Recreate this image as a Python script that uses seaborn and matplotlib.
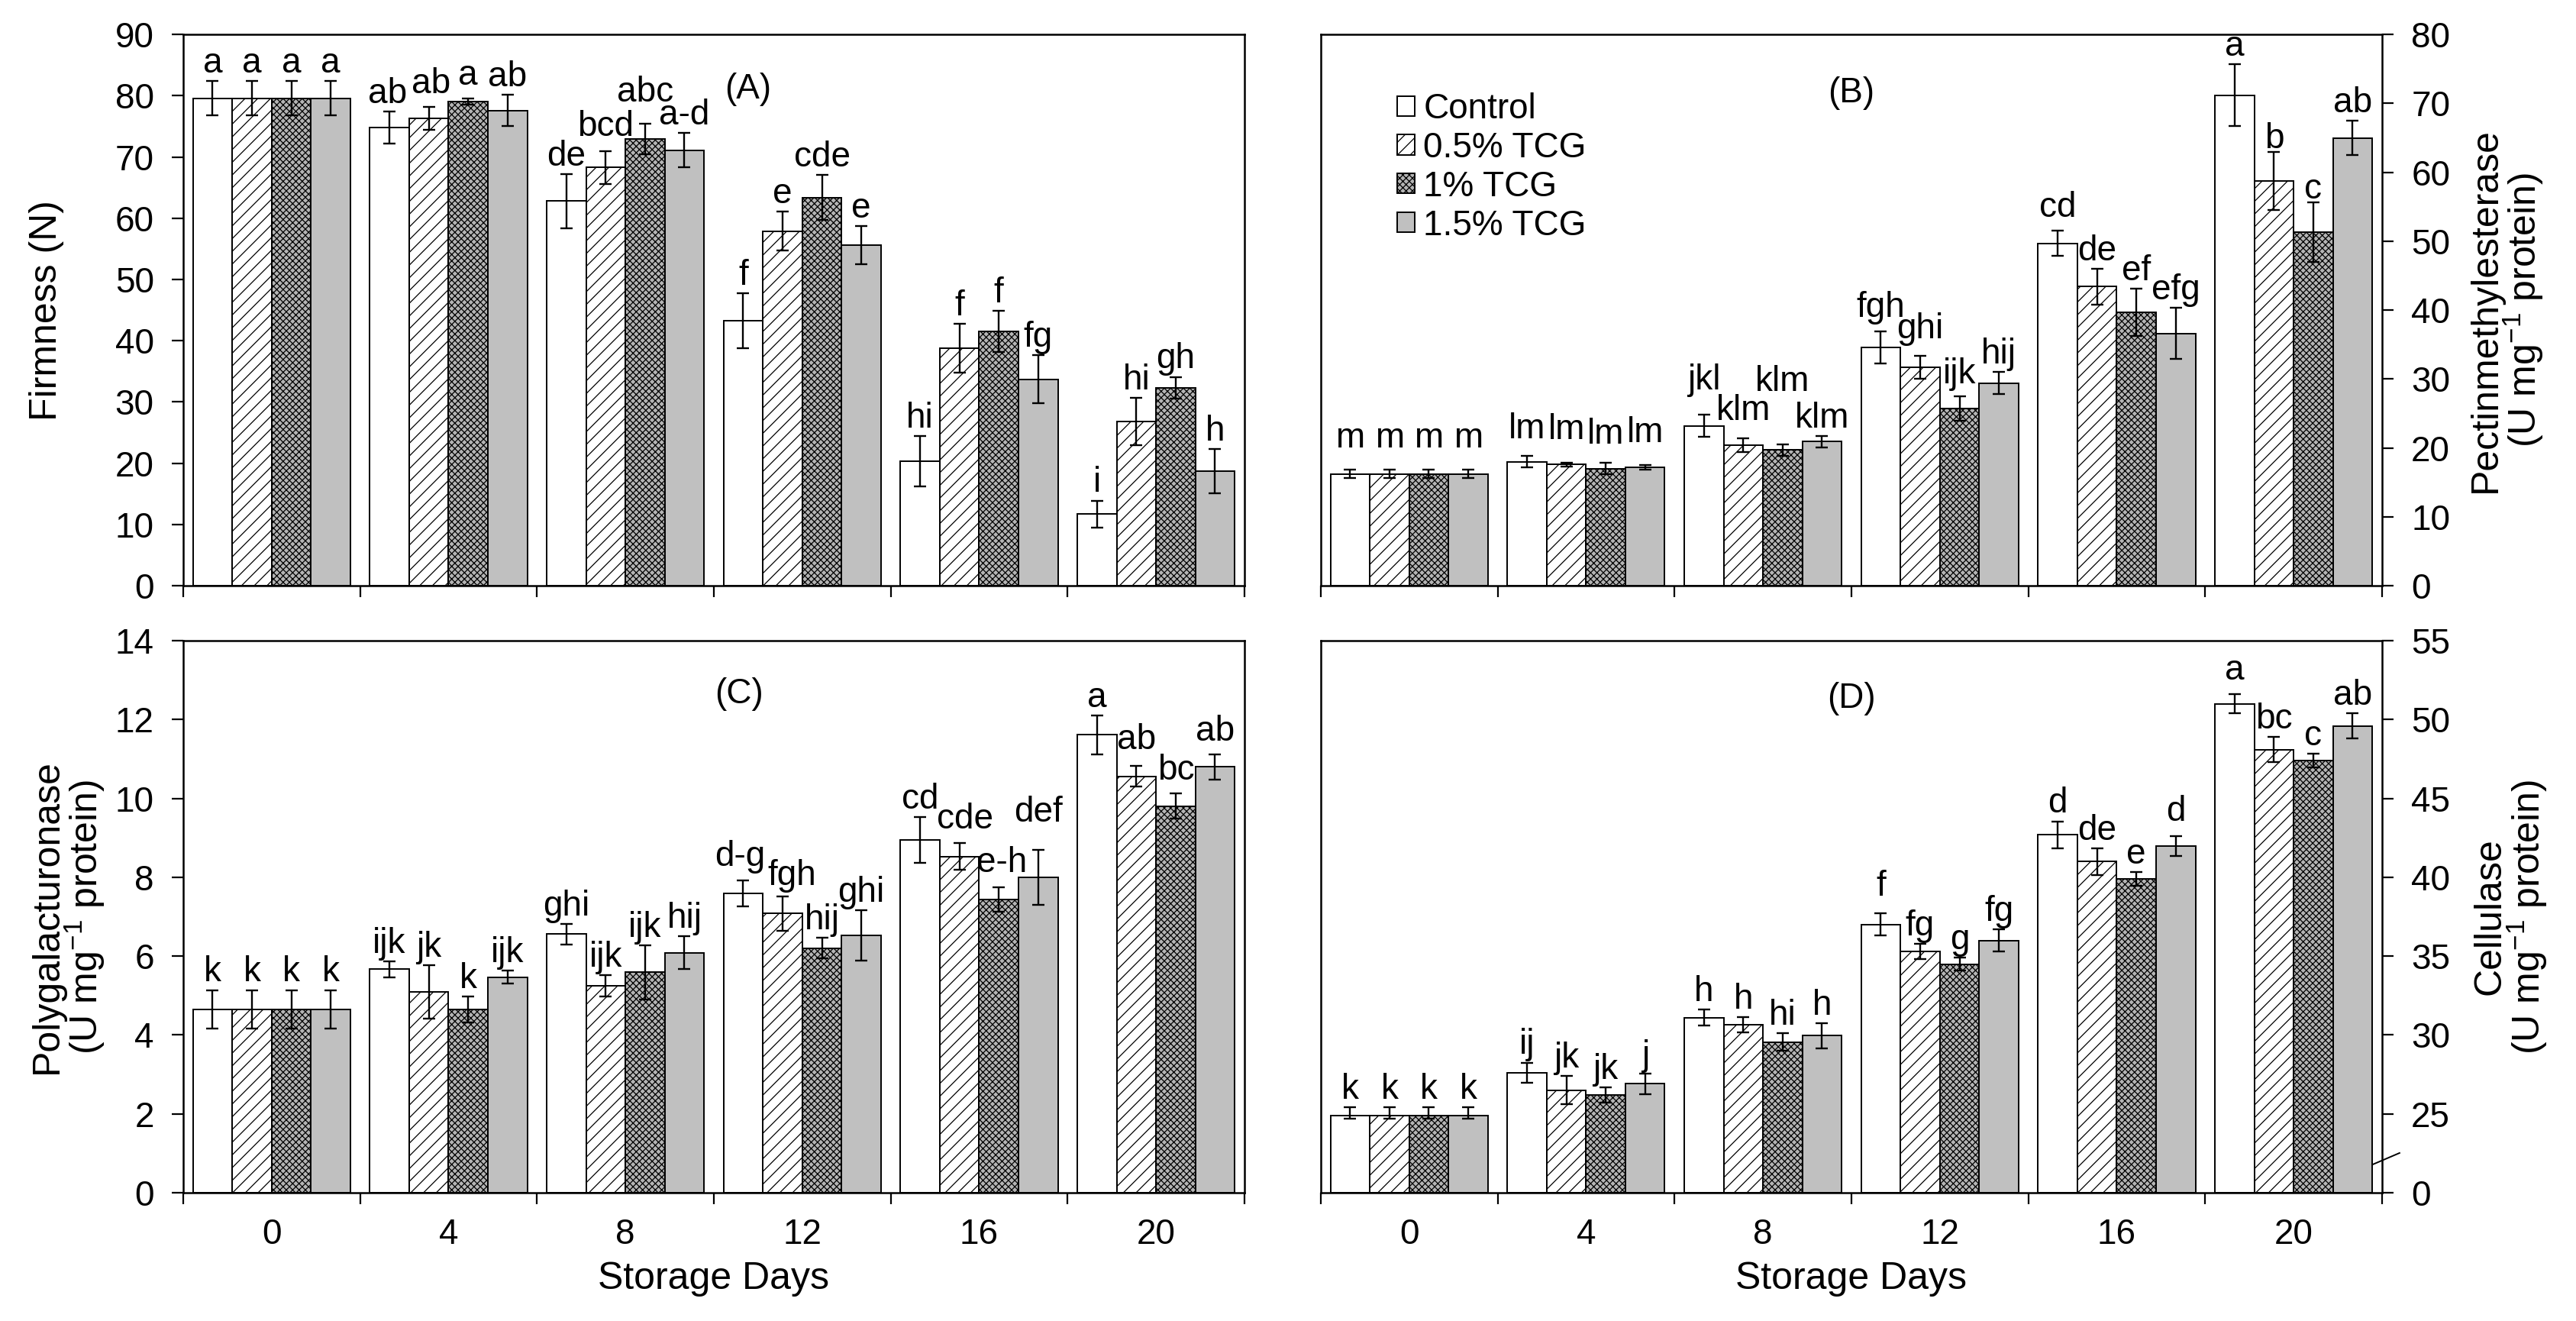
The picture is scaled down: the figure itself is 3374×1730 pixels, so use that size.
import numpy as np
import pandas as pd
import seaborn as sns
import matplotlib.pyplot as plt

# categories
days = ['0', '4', '8', '12', '16', '20']
treatments = ['Control', '0.5% TCG', '1% TCG', '1.5% TCG']

# (A) firmness (N) - rows are treatments, columns are storage days
firm_mean = [[79.6, 74.8, 62.8, 43.3, 20.3, 11.7],
             [79.6, 76.3, 68.3, 57.9, 38.8, 26.8],
             [79.6, 79.0, 72.9, 63.4, 41.5, 32.3],
             [79.6, 77.6, 71.1, 55.6, 33.7, 18.7]]
firm_err = [[2.8, 2.6, 4.4, 4.5, 4.1, 2.2],
            [2.8, 1.9, 2.7, 3.2, 4.0, 3.9],
            [2.8, 0.5, 2.5, 3.7, 3.4, 1.8],
            [2.8, 2.6, 2.8, 3.1, 3.9, 3.6]]
firm_let = [['a', 'ab', 'de', 'f', 'hi', 'i'],
            ['a', 'ab', 'bcd', 'e', 'f', 'hi'],
            ['a', 'a', 'abc', 'cde', 'f', 'gh'],
            ['a', 'ab', 'a-d', 'e', 'fg', 'h']]

# (B) pectinmethylesterase
pme_mean = [[16.2, 18.0, 23.2, 34.6, 49.7, 71.2],
            [16.2, 17.6, 20.4, 31.7, 43.4, 58.7],
            [16.2, 17.0, 19.7, 25.7, 39.7, 51.3],
            [16.2, 17.2, 20.9, 29.4, 36.6, 65.0]]
pme_err = [[0.6, 0.8, 1.6, 2.3, 1.8, 4.5],
           [0.6, 0.3, 1.0, 1.7, 2.6, 4.2],
           [0.6, 0.8, 0.85, 1.8, 3.4, 4.3],
           [0.6, 0.3, 0.85, 1.6, 3.7, 2.5]]
pme_let = [['m', 'lm', 'jkl', 'fgh', 'cd', 'a'],
           ['m', 'lm', 'klm', 'ghi', 'de', 'b'],
           ['m', 'lm', 'klm', 'ijk', 'ef', 'c'],
           ['m', 'lm', 'klm', 'hij', 'efg', 'ab']]

# (C) polygalacturonase
pg_mean = [[4.65, 5.67, 6.56, 7.59, 8.94, 11.61],
           [4.65, 5.09, 5.24, 7.08, 8.53, 10.56],
           [4.65, 4.65, 5.59, 6.20, 7.44, 9.80],
           [4.65, 5.47, 6.09, 6.53, 8.00, 10.80]]
pg_err = [[0.49, 0.20, 0.26, 0.33, 0.58, 0.50],
          [0.49, 0.68, 0.27, 0.43, 0.34, 0.26],
          [0.49, 0.33, 0.69, 0.26, 0.31, 0.32],
          [0.49, 0.16, 0.41, 0.64, 0.69, 0.32]]
pg_let = [['k', 'ijk', 'ghi', 'd-g', 'cd', 'a'],
          ['k', 'jk', 'ijk', 'fgh', 'cde', 'ab'],
          ['k', 'k', 'ijk', 'hij', 'e-h', 'bc'],
          ['k', 'ijk', 'hij', 'ghi', 'def', 'ab']]

# (D) cellulase
cel_mean = [[24.5, 27.6, 31.1, 37.0, 42.7, 51.0],
            [24.5, 26.5, 30.65, 35.3, 41.0, 48.1],
            [24.5, 26.2, 29.55, 34.5, 39.9, 47.4],
            [24.5, 26.9, 29.95, 36.0, 42.0, 49.6]]
cel_err = [[0.9, 0.65, 0.5, 0.7, 0.85, 0.6],
           [0.9, 0.9, 0.5, 0.47, 0.85, 0.8],
           [0.9, 0.5, 0.55, 0.4, 0.45, 0.44],
           [0.9, 0.65, 0.8, 0.68, 0.63, 0.8]]
cel_let = [['k', 'ij', 'h', 'f', 'd', 'a'],
           ['k', 'jk', 'h', 'fg', 'de', 'bc'],
           ['k', 'jk', 'hi', 'g', 'e', 'c'],
           ['k', 'j', 'h', 'fg', 'd', 'ab']]

face = {'Control': 'white', '0.5% TCG': 'white', '1% TCG': '#b4b4b4', '1.5% TCG': '#c0c0c0'}
hatches = ['', '//', 'xxxx', '']

# letter shifts (dx, dy in points) where the original places them off-centre,
# keyed (treatment, day)
nudge_A = {(0, 1): (-2, 0), (1, 1): (2, 5), (2, 1): (0, 5), (1, 2): (0, 6), (2, 2): (0, 13)}
nudge_B = {(0, 0): (0, 13), (1, 0): (0, 13), (2, 0): (0, 13), (3, 0): (0, 13),
           (0, 1): (0, 9), (1, 1): (0, 14), (2, 1): (0, 10), (3, 1): (0, 14),
           (0, 2): (0, 16), (1, 2): (0, 9), (2, 2): (0, 42),
           (0, 3): (0, 6), (1, 3): (0, 8), (2, 3): (0, 4), (0, 4): (0, 5),
           (1, 5): (0, -4), (2, 5): (0, -4)}
nudge_C = {(0, 3): (-3, 6), (1, 3): (9, 3), (1, 4): (5, 6), (2, 4): (3, 6), (3, 4): (0, 19),
           (1, 5): (0, 8), (2, 5): (0, 5), (3, 5): (0, 5)}
nudge_D = {(0, 3): (0, 9), (3, 4): (0, 6), (0, 5): (0, 6)}

plt.rcParams['font.family'] = ['Liberation Sans', 'DejaVu Sans']
plt.rcParams['mathtext.fontset'] = 'custom'
plt.rcParams['mathtext.rm'] = 'Liberation Sans'
plt.rcParams['mathtext.it'] = 'Liberation Sans:italic'
plt.rcParams['hatch.linewidth'] = 0.9

FS = 33


def long_frame(means):
    rows = []
    for t, vals in zip(treatments, means):
        for d, v in zip(days, vals):
            rows.append({'day': d, 'treatment': t, 'value': v})
    return pd.DataFrame(rows)


def draw_panel(ax, means, errs, lets, nudge, xlabels):
    df = long_frame(means)
    sns.barplot(data=df, x='day', y='value', hue='treatment', order=days,
                hue_order=treatments, palette=face, saturation=1, width=0.89,
                edgecolor='black', linewidth=1.4, errorbar=None, legend=False, ax=ax)
    bars = list(ax.containers)
    for ti, (cont, hatch, err, let) in enumerate(zip(bars, hatches, errs, lets)):
        xs, hs = [], []
        for bar in cont.patches:
            bar.set_hatch(hatch)
            xs.append(bar.get_x() + bar.get_width() / 2)
            hs.append(bar.get_height())
        ax.errorbar(xs, hs, yerr=err, fmt='none', ecolor='black',
                    elinewidth=1.7, capsize=5.5, capthick=1.7)
        for di, (x, h, e, txt) in enumerate(zip(xs, hs, err, let)):
            dx, dy = nudge.get((ti, di), (0, 0))
            ax.annotate(txt, (x, h + e), xytext=(dx, 8 + dy),
                        textcoords='offset points', ha='center', va='baseline',
                        fontsize=FS)
    ax.set_xlim(-0.5, 5.5)
    ax.set_xticks(range(6))
    ax.set_xticks(np.arange(-0.5, 6, 1), minor=True)
    ax.tick_params(axis='x', which='major', length=0, pad=24, labelsize=FS)
    ax.tick_params(axis='x', which='minor', length=10.5, width=1.6, direction='out')
    if xlabels:
        ax.set_xticklabels(days)
        ax.set_xlabel('Storage Days', fontsize=36)
        ax.xaxis.set_label_coords(0.5, -0.125)
    else:
        ax.set_xticklabels([])
        ax.set_xlabel('')
    ax.tick_params(axis='y', length=10.5, width=1.6, direction='out', pad=17, labelsize=FS)
    for sp in ax.spines.values():
        sp.set_linewidth(1.8)
    return bars


fig = plt.figure(figsize=(33.74, 17.30), dpi=100)
axA = fig.add_axes([0.0711, 0.5566, 0.4120, 0.4173])
axB = fig.add_axes([0.5127, 0.5566, 0.4120, 0.4173])
axC = fig.add_axes([0.0711, 0.0971, 0.4120, 0.4179])
axD = fig.add_axes([0.5127, 0.0971, 0.4120, 0.4179])

# (A)
draw_panel(axA, firm_mean, firm_err, firm_let, nudge_A, False)
axA.set_ylim(0, 90)
axA.set_yticks(range(0, 91, 10))
axA.set_ylabel('Firmness (N)', fontsize=36)
axA.yaxis.set_label_coords(-0.112, 0.5)
axA.text(0.532, 0.90, '(A)', transform=axA.transAxes, fontsize=FS, ha='center', va='center')

# (B)
bars_B = draw_panel(axB, pme_mean, pme_err, pme_let, nudge_B, False)
axB.set_ylim(0, 80)
axB.set_yticks(range(0, 81, 10))
axB.yaxis.tick_right()
axB.yaxis.set_label_position('right')
axB.set_ylabel('Pectinmethylesterase\n(U mg$^{-1}$ protein)', fontsize=36, linespacing=0.95)
axB.yaxis.set_label_coords(1.081, 0.5)
axB.text(0.50, 0.893, '(B)', transform=axB.transAxes, fontsize=FS, ha='center', va='center')
axB.legend(bars_B, treatments, loc='upper left', bbox_to_anchor=(0.072, 0.895),
           frameon=False, fontsize=FS, handlelength=0.5, handleheight=0.5,
           handletextpad=0.25, labelspacing=0.15, borderpad=0, borderaxespad=0)

# (C)
draw_panel(axC, pg_mean, pg_err, pg_let, nudge_C, True)
axC.set_ylim(0, 14)
axC.set_yticks(range(0, 15, 2))
axC.set_ylabel('Polygalacturonase\n(U mg$^{-1}$ protein)', fontsize=36, linespacing=0.95)
axC.yaxis.set_label_coords(-0.072, 0.5)
axC.text(0.524, 0.903, '(C)', transform=axC.transAxes, fontsize=FS, ha='center', va='center')


# (D) broken axis: 0-25 squeezed into one tick interval
def fwd(v):
    v = np.asarray(v, dtype=float)
    return np.where(v < 25, 20 + v * 0.2, v)


def inv(d):
    d = np.asarray(d, dtype=float)
    return np.where(d < 25, (d - 20) * 5, d)


draw_panel(axD, cel_mean, cel_err, cel_let, nudge_D, True)
axD.set_yscale('function', functions=(fwd, inv))
axD.set_ylim(0, 55)
axD.set_yticks([0, 25, 30, 35, 40, 45, 50, 55])
axD.set_yticklabels(['0', '25', '30', '35', '40', '45', '50', '55'])
axD.yaxis.set_minor_locator(plt.NullLocator())
axD.yaxis.tick_right()
axD.yaxis.set_label_position('right')
axD.set_ylabel('Cellulase\n(U mg$^{-1}$ protein)', fontsize=36, linespacing=0.95)
axD.yaxis.set_label_coords(1.085, 0.5)
axD.text(0.50, 0.895, '(D)', transform=axD.transAxes, fontsize=FS, ha='center', va='center')
axD.plot([0.991, 1.0165], [0.051, 0.072], transform=axD.transAxes, color='black',
         lw=1.4, clip_on=False)

fig.savefig('out.png', dpi=100)
